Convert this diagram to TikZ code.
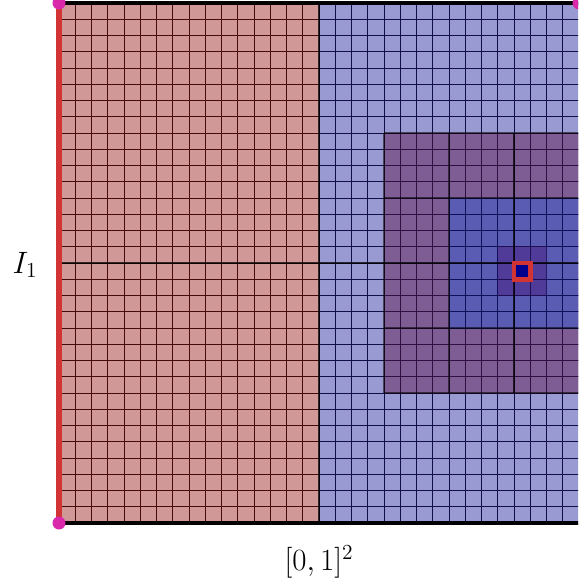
\documentclass[tikz,border=0pt]{standalone}
\definecolor{regred}{RGB}{209,152,152}
\definecolor{regblue}{RGB}{154,154,210}
\definecolor{regpurple}{RGB}{126,92,148}
\definecolor{regmid}{RGB}{90,92,180}
\definecolor{regdark}{RGB}{80,60,152}
\definecolor{lnred}{RGB}{70,10,10}
\definecolor{lnblue}{RGB}{15,15,70}
\definecolor{lnpurple}{RGB}{50,15,65}
\definecolor{lnmid}{RGB}{15,15,90}
\definecolor{lndark}{RGB}{30,15,85}
\definecolor{edgered}{RGB}{210,52,52}
\definecolor{cellblue}{RGB}{0,0,140}
\definecolor{dotmag}{RGB}{218,40,170}
\tikzset{
  thinln/.style={line width=0.65pt},
  blockln/.style={line width=1.3pt, black, opacity=0.55},
  mainln/.style={line width=2pt, black, opacity=0.75},
  borderln/.style={line width=2.4pt, black},
  redside/.style={line width=3.6pt, edgered},
  cellmark/.style={fill=cellblue, draw=edgered, line width=3.2pt},
  vdot/.style={fill=dotmag},
  lbl/.style={inner sep=0pt}
}
\newcommand{\myregion}[6]{%
  \begin{scope}
    \clip (#1,#2) rectangle (#3,#4);
    \fill[#5] (#1,#2) rectangle (#3,#4);
    \foreach \gi in {#1,...,#3} {\draw[#6, thinln] (\gi,#2) -- (\gi,#4);}
    \foreach \gi in {#2,...,#4} {\draw[#6, thinln] (#1,\gi) -- (#3,\gi);}
  \end{scope}}
\begin{document}
\begin{tikzpicture}[x=0.40625cm, y=-0.40625cm]
\useasboundingbox (-3.631,-0.185) rectangle (31.94,35.877);
\begin{scope}
\clip (-3.631,-0.185) rectangle (31.94,35.877);
% regions
\myregion{0}{0}{16}{32}{regred}{lnred}
\myregion{16}{0}{32}{32}{regblue}{lnblue}
\myregion{20}{8}{36}{24}{regpurple}{lnpurple}
\myregion{24}{12}{32}{20}{regmid}{lnmid}
\myregion{27}{15}{30}{18}{regdark}{lndark}
% block lines of the purple square
\foreach \gi in {20,24,32} {\draw[blockln] (\gi,8) -- (\gi,24);}
\foreach \gi in {8,12,20,24} {\draw[blockln] (20,\gi) -- (36,\gi);}
% main lines
\draw[mainln] (16,0) -- (16,32);
\draw[mainln] (0,16) -- (32,16);
\draw[mainln] (28,8) -- (28,24);
% borders
\draw[borderln] (0,0) -- (33,0);
\draw[borderln] (0,32) -- (33,32);
\draw[redside] (0,0) -- (0,32);
% marked cell
\draw[cellmark] (28,16) rectangle (29,17);
% corner dots
\fill[vdot] (0,0) circle (0.4);
\fill[vdot] (0,32) circle (0.4);
\fill[vdot] (32,0) circle (0.4);
\end{scope}
% labels
\node[lbl, anchor=base] (iname) at (-2.09,16.62) {\scalebox{1.06}{\huge $I_1$}};
\node[lbl, anchor=base] (sqname) at (16,34.95) {\scalebox{1.06}{\huge $[0,1]^2$}};
\end{tikzpicture}
\end{document}
